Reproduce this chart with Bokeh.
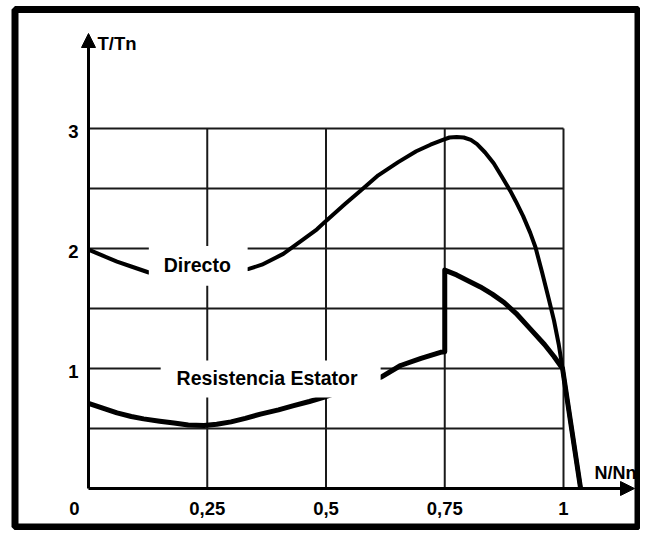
from bokeh.plotting import figure
from bokeh.models import Range1d, Arrow, NormalHead
from bokeh.core.properties import value
from bokeh.embed import file_html
from bokeh.resources import INLINE

# ---- data ----
x_ticks = [0.25, 0.5, 0.75, 1.0]
x_tick_labels = ["0,25", "0,5", "0,75", "1"]
y_ticks = [0.5, 1.0, 1.5, 2.0, 2.5, 3.0]
y_tick_vals_labelled = [1, 2, 3]
y_tick_labels = ["1", "2", "3"]

directo_x = [0.0, 0.03, 0.06, 0.09, 0.127, 0.3375, 0.365, 0.41, 0.45, 0.481, 0.5, 0.54,
             0.572, 0.61, 0.652, 0.69, 0.72, 0.746, 0.76, 0.775, 0.79, 0.805, 0.818,
             0.835, 0.853, 0.87, 0.888, 0.90, 0.915, 0.93, 0.941, 0.955, 0.969,
             0.98, 0.99, 0.998, 1.017, 1.036]
directo_y = [1.99, 1.94, 1.89, 1.85, 1.80, 1.83, 1.865, 1.955, 2.07, 2.16, 2.23, 2.37,
             2.48, 2.61, 2.72, 2.81, 2.865, 2.905, 2.925, 2.93, 2.925, 2.905, 2.87,
             2.80, 2.71, 2.60, 2.48, 2.39, 2.27, 2.13, 2.01, 1.80, 1.58,
             1.40, 1.20, 1.0, 0.5, 0.0]

resist_x = [0.0, 0.03, 0.06, 0.09, 0.116, 0.15, 0.18, 0.21, 0.243, 0.27, 0.30,
            0.33, 0.362, 0.40, 0.432, 0.465, 0.495, 0.617, 0.657, 0.70, 0.741,
            0.75, 0.75, 0.775, 0.80, 0.825, 0.85, 0.875, 0.90, 0.93, 0.96, 0.98,
            0.998, 1.017, 1.036]
resist_y = [0.71, 0.67, 0.63, 0.60, 0.58, 0.56, 0.545, 0.53, 0.525, 0.535, 0.555,
            0.585, 0.62, 0.655, 0.69, 0.725, 0.76, 0.93, 1.025, 1.085, 1.135,
            1.14, 1.82, 1.78, 1.73, 1.68, 1.62, 1.55, 1.46, 1.33, 1.20, 1.10,
            1.0, 0.5, 0.0]

x_label = "N/Nn"
y_label = "T/Tn"
series_labels = ["Directo", "Resistencia Estator"]

# ---- figure: the whole canvas is the plot frame ----
PX_X = 475.0   # pixels per unit on x
PX_Y = 120.0   # pixels per unit on y
W, H = 640, 530
X0, Y0 = 88, 488  # canvas position of the origin


def dx(px):
    return (px - X0) / PX_X


def dy(py):
    return (Y0 - py) / PX_Y


p = figure(width=W, height=H, output_backend="svg", toolbar_location=None,
           x_range=Range1d(dx(0), dx(W)), y_range=Range1d(dy(H), dy(0)),
           min_border=0)
p.axis.visible = False
p.xgrid.visible = False
p.ygrid.visible = False
p.background_fill_color = "white"
p.border_fill_color = "white"
p.outline_line_color = None

xmax = x_ticks[-1]
ymax = y_ticks[-1]
grid_col = "#1a1a1a"
p.segment(x0=x_ticks, y0=[0] * len(x_ticks), x1=x_ticks, y1=[ymax] * len(x_ticks),
          line_width=2, line_color=grid_col)
p.segment(x0=[0] * len(y_ticks), y0=y_ticks, x1=[xmax] * len(y_ticks), y1=y_ticks,
          line_width=2, line_color=grid_col)

p.line(directo_x, directo_y, line_width=4, line_color="black", line_join="round")
p.line(resist_x, resist_y, line_width=5, line_color="black", line_join="round")

# white backgrounds behind the in-plot labels
p.quad(left=[0.127, 0.152], right=[0.335, 0.615], bottom=[1.69, 0.758], top=[2.02, 1.067],
       fill_color="white", line_color=None)

FONT = value("Liberation Sans")
p.text(x=[0.229, 0.376], y=[1.86, 0.925], text=series_labels, text_font=FONT,
       text_font_style="bold", text_font_size="19.5px", text_align="center",
       text_baseline="middle", text_color="black")

# axes with arrows
p.add_layout(Arrow(end=NormalHead(size=14, fill_color="black", line_color="black"),
                   x_start=0, y_start=0, x_end=0, y_end=dy(33),
                   line_width=3, line_color="black"))
p.add_layout(Arrow(end=NormalHead(size=14, fill_color="black", line_color="black"),
                   x_start=0, y_start=0, x_end=dx(634), y_end=0,
                   line_width=3, line_color="black"))

# tick labels
lab_y = dy(508)
TICK_FS = "18.5px"
p.text(x=x_ticks, y=[lab_y] * len(x_ticks), text=x_tick_labels, text_font=FONT,
       text_font_style="bold", text_font_size=TICK_FS, text_align="center",
       text_baseline="middle", text_color="black")
p.text(x=[0], y=[lab_y], text=["0"], x_offset=-14, text_font=FONT,
       text_font_style="bold", text_font_size=TICK_FS, text_align="center",
       text_baseline="middle", text_color="black")
p.text(x=[0] * len(y_tick_vals_labelled), y=[v - 3 / PX_Y for v in y_tick_vals_labelled],
       text=y_tick_labels, x_offset=-15, text_font=FONT, text_font_style="bold",
       text_font_size=TICK_FS, text_align="center", text_baseline="middle",
       text_color="black")

# axis titles
p.text(x=[dx(97)], y=[dy(43)], text=[y_label], text_font=FONT, text_font_style="bold",
       text_font_size="18.5px", text_align="left", text_baseline="middle", text_color="black")
p.text(x=[dx(615)], y=[dy(472)], text=[x_label], text_font=FONT, text_font_style="bold",
       text_font_size="18px", text_align="center", text_baseline="middle", text_color="black")

# picture frame
p.quad(left=[dx(14.5)], right=[dx(637.5)], top=[dy(9)], bottom=[dy(526.5)],
       fill_color=None, line_color="black", line_width=7)

open("out.html", "w").write(file_html(p, INLINE))
